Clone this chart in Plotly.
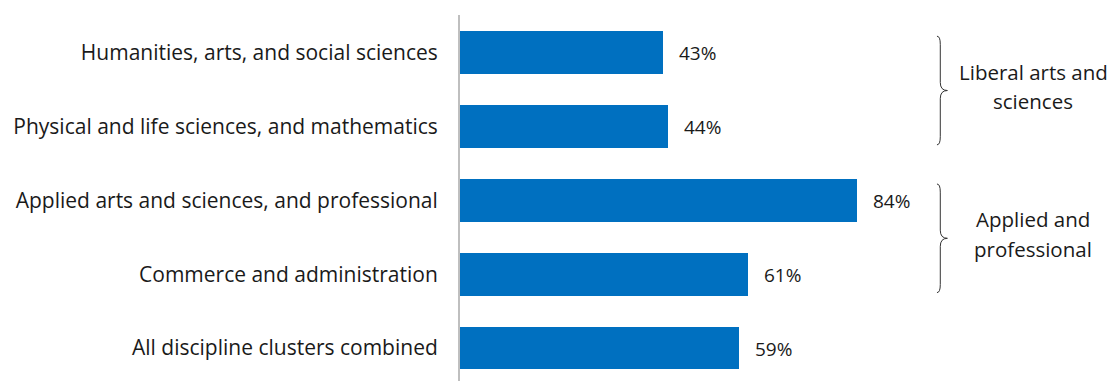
import plotly.graph_objects as go

categories = [
    "Humanities, arts, and social sciences",
    "Physical and life sciences, and mathematics",
    "Applied arts and sciences, and professional",
    "Commerce and administration",
    "All discipline clusters combined",
]
values = [43, 44, 84, 61, 59]
value_labels = ["43%", "44%", "84%", "61%", "59%"]

group_lines = [("Liberal arts and", "sciences"), ("Applied and", "professional")]
group_spans = [(0, 1), (2, 3)]  # category indices covered by each brace

BAR_COLOR = "#0070C0"
TEXT_COLOR = "#1a1a1a"
FONT = "Open Sans"

fig = go.Figure(
    go.Bar(
        x=values,
        y=list(range(len(categories))),
        orientation="h",
        marker=dict(color=BAR_COLOR, line=dict(width=0)),
        width=0.58,
        hoverinfo="skip",
    )
)

# value labels to the right of each bar
for i, (v, lab) in enumerate(zip(values, value_labels)):
    fig.add_annotation(
        x=v, y=i, text=lab, showarrow=False,
        xanchor="left", yanchor="middle", xshift=14, yshift=-1,
        font=dict(family=FONT, size=19, color=TEXT_COLOR),
    )


def brace_path(y_top, y_bot, x0=100.9, x1=101.6, x2=103.1, r=0.11):
    ym = (y_top + y_bot) / 2
    return (
        f"M {x0},{y_top} Q {x1},{y_top} {x1},{y_top + r} "
        f"L {x1},{ym - r} Q {x1},{ym} {x2},{ym} "
        f"Q {x1},{ym} {x1},{ym + r} "
        f"L {x1},{y_bot - r} Q {x1},{y_bot} {x0},{y_bot}"
    )


for (a, b), (line1, line2) in zip(group_spans, group_lines):
    mid = (a + b) / 2
    fig.add_shape(
        type="path", xref="x", yref="y",
        path=brace_path(a - 0.22, b + 0.25),
        line=dict(color="#333333", width=1),
    )
    # group caption, two lines with a roomier line spacing
    for txt, dy in ((line1, -0.24), (line2, 0.155)):
        fig.add_annotation(
            x=121.3, y=mid + dy, text=txt, showarrow=False,
            xanchor="center", yanchor="middle", align="center",
            font=dict(family=FONT, size=20.5, color=TEXT_COLOR),
        )

fig.update_layout(
    width=1110, height=381,
    margin=dict(l=460, r=0, t=15, b=0),
    paper_bgcolor="white", plot_bgcolor="white",
    showlegend=False,
    bargap=0,
    xaxis=dict(
        range=[0, 137.5], visible=False, fixedrange=True,
    ),
    yaxis=dict(
        range=[4.446, -0.507],
        tickmode="array",
        tickvals=list(range(len(categories))),
        ticktext=categories,
        ticks="", ticklabelstandoff=16,
        showgrid=False, zeroline=False,
        showline=True, linecolor="#BFBFBF", linewidth=2,
        tickfont=dict(family=FONT, size=21, color=TEXT_COLOR),
    ),
)

fig.write_html("out.html")
